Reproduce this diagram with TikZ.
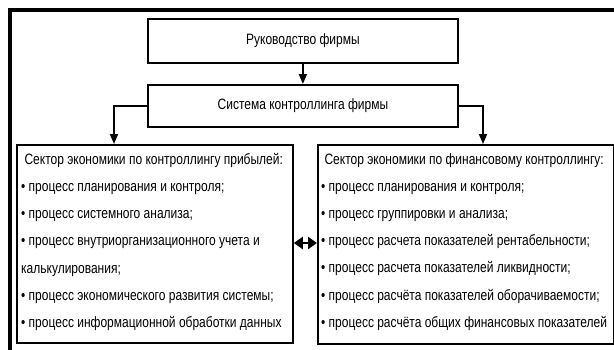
\documentclass[tikz,border=0pt]{standalone}
\usepackage{fontspec}
\setmainfont{Liberation Sans}[FakeStretch=0.80]
\usetikzlibrary{arrows.meta}
\tikzset{
  box/.style={draw, line width=1.8pt, inner sep=0pt, font=\fontsize{15}{27.2}\selectfont},
  conn/.style={line width=1.8pt, -{Triangle[length=10pt,width=8pt]}},
  listtext/.style={anchor=north west, align=left, inner sep=0pt, font=\fontsize{15}{27.2}\selectfont},
}
\begin{document}
\begin{tikzpicture}[x=1pt,y=-1pt]
\useasboundingbox (0,0) rectangle (614,349);
\begin{scope}
\clip (0,0) rectangle (614,349);
\draw[line width=3.6pt] (640,9.8) -- (9.8,9.8) -- (9.8,380);
\end{scope}
\node[box, minimum width=310pt, minimum height=44pt, anchor=north west] (top) at (147,18) {Руководство фирмы};
\node[box, minimum width=310pt, minimum height=42pt, anchor=north west] (sys) at (147,84) {Система контроллинга фирмы};
\node[box, minimum width=276pt, minimum height=198pt, anchor=north west] (L) at (16,144) {};
\node[box, minimum width=296pt, minimum height=199pt, anchor=north west] (R) at (317,144) {};
\node[listtext] (Lt) at (21,153) {\ Сектор экономики по контроллингу прибылей:\\
• процесс планирования и контроля;\\
• процесс системного анализа;\\
• процесс внутриорганизационного учета и\\
калькулирования;\\
• процесс экономического развития системы;\\
• процесс информационной обработки данных};
\node[listtext] (Rt) at (321,153) {\ Сектор экономики по финансовому контроллингу:\\
• процесс планирования и контроля;\\
• процесс группировки и анализа;\\
• процесс расчета показателей рентабельности;\\
• процесс расчета показателей ликвидности;\\
• процесс расчёта показателей оборачиваемости;\\
• процесс расчёта общих финансовых показателей};
\coordinate (lc) at (114,144);
\coordinate (rc) at (483,144);
\draw[conn] (top.south) -- (sys.north);
\draw[conn] (sys.west) -| (L.north -| lc);
\draw[conn] (sys.east) -| (R.north -| rc);
\draw[line width=2.6pt, {Triangle[length=9pt,width=12pt]}-{Triangle[length=9pt,width=12pt]}] (L.east |- 0,243) -- (R.west |- 0,243);
\end{tikzpicture}
\end{document}
